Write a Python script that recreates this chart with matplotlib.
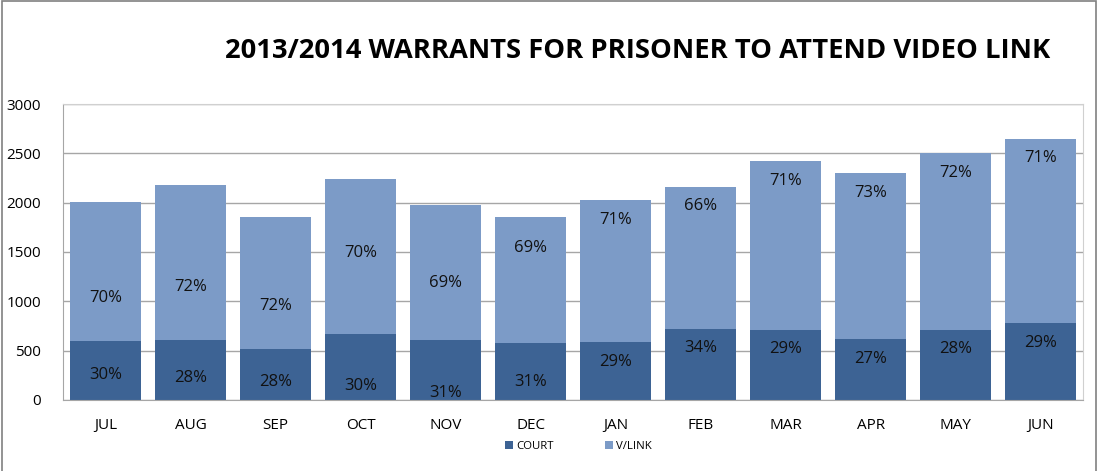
"""Stacked bars: warrants for prisoner to attend video link, 2013/2014."""
import matplotlib
matplotlib.use("Agg")
import matplotlib.pyplot as plt
from matplotlib.patches import Rectangle

months = ["JUL", "AUG", "SEP", "OCT", "NOV", "DEC",
          "JAN", "FEB", "MAR", "APR", "MAY", "JUN"]
court = [601, 608, 514, 669, 608, 575, 585, 720, 709, 615, 709, 777]
vlink = [1409, 1574, 1344, 1571, 1368, 1277, 1442, 1442, 1713, 1682, 1791, 1868]
court_pct = ["30%", "28%", "28%", "30%", "31%", "31%",
             "29%", "34%", "29%", "27%", "28%", "29%"]
vlink_pct = ["70%", "72%", "72%", "70%", "69%", "69%",
             "71%", "66%", "71%", "73%", "72%", "71%"]
# where the percentage labels sit in the original (data units)
court_label_y = [253, 226, 186, 142, 68, 186, 388, 524, 514, 412, 514, 581]
vlink_label_y = [1030, 1148, 953, 1493, 1189, 1537, 1824, 1966, 2223, 2094, 2304, 2450]

DARK, LIGHT = "#3D6394", "#7C9BC7"
plt.rcParams["font.family"] = ["Open Sans", "DejaVu Sans"]

fig = plt.figure(figsize=(10.99, 4.71), dpi=100)
ax = fig.add_axes([0.0575, 0.151, 0.928, 0.628])
x = range(len(months))
ax.bar(x, court, width=0.83, color=DARK, label="COURT", zorder=2)
ax.bar(x, vlink, bottom=court, width=0.83, color=LIGHT, label="V/LINK", zorder=2)

for i in x:
    ax.text(i, court_label_y[i], court_pct[i], ha="center", va="center",
            fontsize=12, color="#111111", zorder=3)
    ax.text(i, vlink_label_y[i], vlink_pct[i], ha="center", va="center",
            fontsize=12, color="#111111", zorder=3)

ax.set_xlim(-0.5, len(months) - 0.5)
ax.set_ylim(0, 3000)
ax.set_yticks(range(0, 3001, 500))
ax.set_xticks(list(x))
ax.set_xticklabels(months)
ax.tick_params(axis="both", labelsize=11, length=0)
ax.tick_params(axis="x", pad=13)
ax.tick_params(axis="y", pad=16)
ax.grid(axis="y", color="#A6A6A6", linewidth=1, zorder=0)
for s in ax.spines.values():
    s.set_color("#A6A6A6")
ax.spines["top"].set_color("#D0D0D0")
ax.spines["right"].set_color("#D0D0D0")

ax.legend(loc="upper center", bbox_to_anchor=(0.505, -0.105), ncol=2,
          frameon=False, fontsize=8.2, handlelength=0.7, handleheight=0.7,
          columnspacing=4.5, handletextpad=0.3)

fig.text(0.58, 0.892, "2013/2014 WARRANTS FOR PRISONER TO ATTEND VIDEO LINK",
         ha="center", va="center", fontsize=19.7, fontweight="bold")
fig.patches.append(Rectangle((0.002, -0.1), 0.995, 1.097, transform=fig.transFigure,
                             fill=False, edgecolor="#808080", linewidth=1.2))

fig.savefig("out.png", dpi=100)
